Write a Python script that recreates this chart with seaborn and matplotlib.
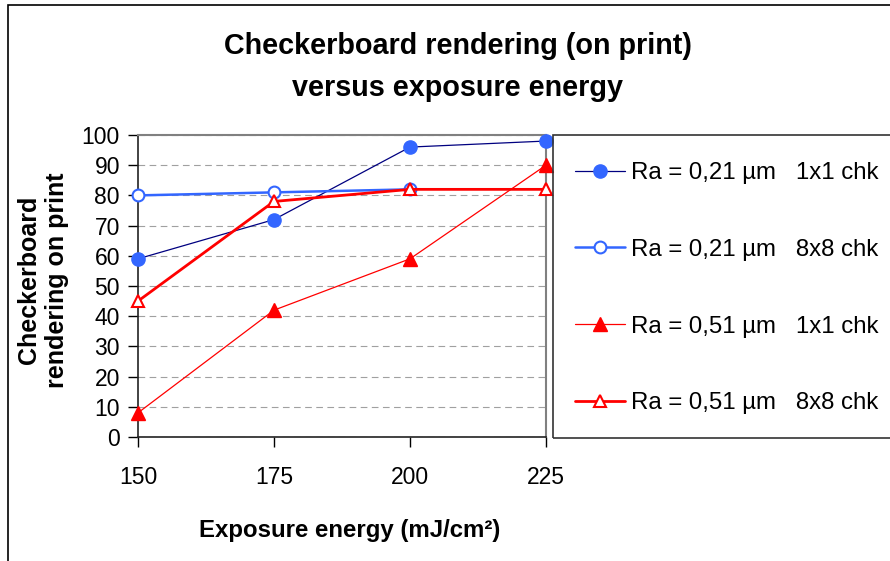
import matplotlib
matplotlib.use("Agg")
import matplotlib.pyplot as plt
import seaborn as sns
import numpy as np
import pandas as pd
from matplotlib.lines import Line2D
from matplotlib.patches import Rectangle

# ---- data ----
energy = [150, 175, 200, 225]
ra021_1x1 = [59, 72, 96, 98]
ra021_8x8 = [80, 81, 82, np.nan]
ra051_1x1 = [8, 42, 59, 90]
ra051_8x8 = [45, 78, 82, 82]
labels = ["Ra = 0,21 µm   1x1 chk", "Ra = 0,21 µm   8x8 chk",
          "Ra = 0,51 µm   1x1 chk", "Ra = 0,51 µm   8x8 chk"]
yticks = list(range(0, 101, 10))

sns.set_theme(style="white")
plt.rcParams['font.family'] = ['Liberation Sans', 'DejaVu Sans']
plt.rcParams['text.color'] = 'black'
plt.rcParams['axes.labelcolor'] = 'black'
plt.rcParams['xtick.color'] = 'black'
plt.rcParams['ytick.color'] = 'black'

W, H = 890, 561
fig = plt.figure(figsize=(W / 100, H / 100), dpi=100)
ax = fig.add_axes([138 / W, 1 - 437 / H, (546 - 138) / W, (437 - 135) / H])

BLUE = "#3366FF"
NAVY = "#000080"
RED = "#FF0000"

styles = [
    dict(color=NAVY, lw=0.9, marker="o", ms=9.5, mfc=BLUE, mec=BLUE, mew=1.0),
    dict(color=BLUE, lw=1.8, marker="o", ms=8.5, mfc="white", mec=BLUE, mew=1.5),
    dict(color=RED, lw=0.9, marker="^", ms=9.5, mfc=RED, mec=RED, mew=1.0),
    dict(color=RED, lw=2.0, marker="^", ms=8.5, mfc="white", mec=RED, mew=1.5),
]
series = [ra021_1x1, ra021_8x8, ra051_1x1, ra051_8x8]

for vals, st in zip(series, styles):
    df = pd.DataFrame({"x": energy, "y": vals}).dropna()
    sns.lineplot(data=df, x="x", y="y", ax=ax, legend=False, errorbar=None,
                 color=st["color"], linewidth=st["lw"], marker=st["marker"],
                 markersize=st["ms"], markerfacecolor=st["mfc"],
                 markeredgecolor=st["mec"], markeredgewidth=st["mew"],
                 clip_on=False, zorder=3)

ax.set_xlim(150, 225)
ax.set_ylim(0, 100)
ax.set_xticks(energy)
ax.set_xticklabels([str(e) for e in energy])
ax.set_yticks(yticks)
ax.set_yticklabels([str(t) for t in yticks])
ax.tick_params(axis="both", labelsize=16.5, colors="black", direction="out",
               length=7, width=1.0, left=True, bottom=True)
ax.tick_params(axis="x", pad=14)
ax.tick_params(axis="y", pad=6)
ax.set_xlabel("")
ax.set_ylabel("")

for s in ["left", "bottom"]:
    ax.spines[s].set_color("#222222")
    ax.spines[s].set_linewidth(1.2)
for s in ["top", "right"]:
    ax.spines[s].set_color("#808080")
    ax.spines[s].set_linewidth(1.5)

ax.yaxis.grid(True, color="#A0A0A0", linestyle=(0, (6, 4)), linewidth=0.8)
ax.xaxis.grid(False)
ax.set_axisbelow(True)

# titles and labels
fig.text(458 / W, 1 - 46 / H, "Checkerboard rendering (on print)", ha="center",
         va="center", fontsize=20.7, fontweight="bold")
fig.text(458 / W, 1 - 88 / H, "versus exposure energy", ha="center",
         va="center", fontsize=20.7, fontweight="bold")
fig.text(350 / W, 1 - 530 / H, "Exposure energy (mJ/cm²)", ha="center",
         va="center", fontsize=17.3, fontweight="bold")
fig.text(43 / W, 1 - 280 / H, "Checkerboard\nrendering on print", ha="center",
         va="center", rotation=90, fontsize=18, fontweight="bold",
         multialignment="center", linespacing=1.2)

# legend box
fig.patches.append(Rectangle((553 / W, 1 - 438 / H), (900 - 553) / W, (438 - 135) / H,
                             transform=fig.transFigure, fill=False,
                             edgecolor="#333333", linewidth=1.2))
# figure border
fig.patches.append(Rectangle((8 / W, -0.1), 1.2, 1 - 5 / H + 0.1,
                             transform=fig.transFigure, fill=False,
                             edgecolor="black", linewidth=1.2))

handles = [Line2D([], [], color=st["color"], lw=st["lw"], marker=st["marker"],
                  markersize=st["ms"], markerfacecolor=st["mfc"],
                  markeredgecolor=st["mec"], markeredgewidth=st["mew"])
           for st in styles]
fig.legend(handles, labels, loc="upper left",
           bbox_to_anchor=(575 / W, 1 - 162 / H), frameon=False,
           fontsize=17.3, handlelength=2.1, handletextpad=0.25,
           labelspacing=2.28, borderpad=0, borderaxespad=0)

fig.savefig("out.png", dpi=100)
